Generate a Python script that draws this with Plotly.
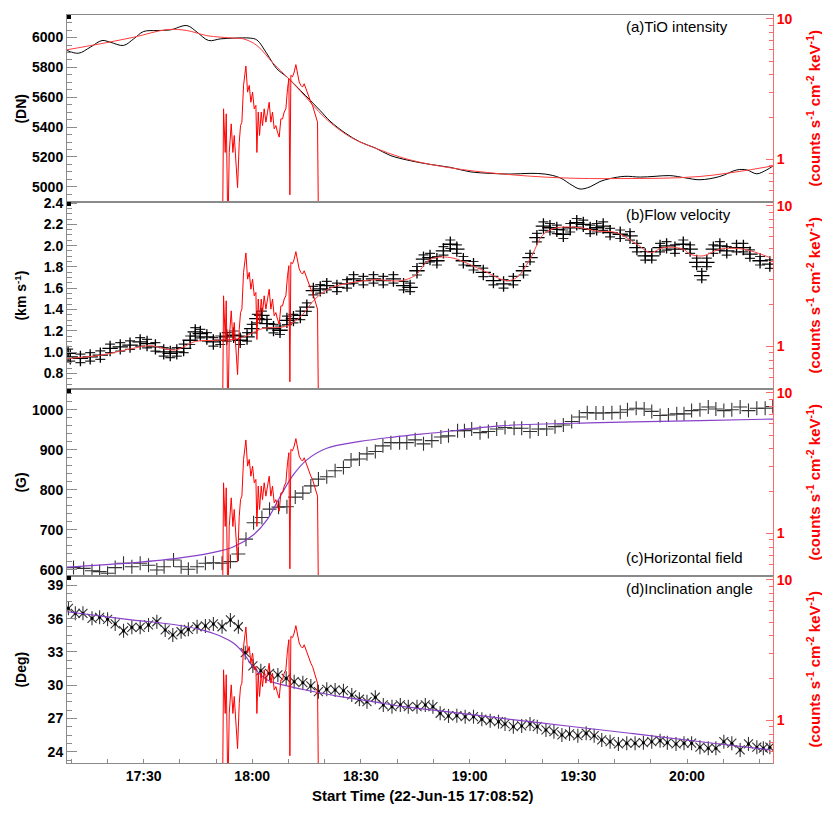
import numpy as np
import pandas as pd
import plotly.graph_objects as go

START = "2015-06-22 17:08:52"
END = "2015-06-22 20:23:44"
T0 = pd.Timestamp(START)

def T(minutes):
    return T0 + pd.to_timedelta(np.asarray(minutes, dtype=float), unit="min")

# ---------------- data (times = minutes after 17:08:52) ----------------
# (a) TiO intensity (DN)
tio_t = [0.0, 3.2, 6.4, 9.7, 11.9, 15.6, 18.4, 21.1, 24.8, 28.5, 33.1, 35.9, 39.1, 42.3, 46.0,
         50.6, 52.4, 55.2, 57.9, 60.7, 64.4, 67.1, 69.9, 72.6, 76.8, 80.9, 85.1, 89.2, 94.7, 100.2,
         105.8, 111.3, 116.8, 122.3, 127.8, 132.0, 136.1, 139.4, 141.6, 144.4, 147.1, 149.9, 154.0,
         158.2, 162.3, 166.4, 170.6, 174.7, 180.2, 184.9, 187.6, 190.4, 193.1, 194.8]
tio_v = [5913, 5895, 5935, 5980, 5969, 5947, 5991, 6040, 6047, 6051, 6080, 6036, 5980, 5991, 5996,
         5996, 5984, 5891, 5791, 5736, 5647, 5580, 5510, 5440, 5360, 5300, 5260, 5210, 5175, 5150,
         5130, 5100, 5090, 5085, 5090, 5085, 5060, 5010, 4985, 5000, 5035, 5055, 5070,
         5065, 5070, 5075, 5060, 5047, 5069, 5113, 5113, 5087, 5113, 5138]
tio_fit_t = [0.0, 9.2, 18.4, 27.6, 33.1, 38.6, 46.0, 48.7, 52.4, 57.0, 60.7, 64.4, 71.3, 78.2,
             86.4, 94.7, 105.8, 119.6, 136.1, 152.7, 174.7, 194.9]
tio_fit_v = [5918, 5958, 6002, 6053, 6047, 6013, 5996, 5991, 5947, 5825, 5736, 5642, 5460, 5333,
             5247, 5180, 5127, 5087, 5060, 5055, 5069, 5140]

# (b) Flow velocity (km/s)
vel_t = [0.3, 0.9, 3.7, 6.4, 9.2, 11.9, 14.7, 17.4, 20.2, 22.1, 24.4, 26.7, 28.5, 30.3, 32.2,
         34.0, 35.4, 36.8, 38.6, 40.4, 42.3, 44.1, 46.0, 47.8, 49.7, 51.0, 52.4, 53.8, 55.2, 57.0,
         58.8, 60.7, 62.5, 64.4, 66.2, 68.0, 69.9, 71.7, 74.5, 77.3, 79.1, 81.8, 84.6, 87.3, 90.1,
         92.9, 94.7, 96.6, 98.4, 100.2, 102.1, 103.9, 105.8, 107.6, 109.4, 112.2, 114.9, 117.7,
         120.5, 123.2, 126.0, 127.8, 129.7, 131.5, 133.3, 135.2, 137.0, 138.9, 140.7, 142.5, 144.4,
         146.2, 148.0, 149.9, 152.7, 155.4, 157.3, 159.6, 161.4, 163.7, 165.5, 167.8, 170.1, 172.0,
         173.8, 175.2, 176.6, 178.4, 180.2, 182.1, 184.8, 186.7, 188.5, 191.3, 194.0]
vel_v = [0.987, 0.955, 0.940, 0.955, 0.971, 1.034, 1.049, 1.065, 1.095, 1.080, 1.049, 1.002, 0.987,
         1.002, 1.034, 1.111, 1.189, 1.174, 1.142, 1.095, 1.111, 1.142, 1.158, 1.111, 1.142, 1.220,
         1.314, 1.344, 1.267, 1.220, 1.205, 1.298, 1.314, 1.344, 1.422, 1.578, 1.594, 1.624, 1.608,
         1.640, 1.687, 1.671, 1.687, 1.671, 1.687, 1.624, 1.608, 1.764, 1.873, 1.888, 1.858, 1.951,
         2.013, 1.967, 1.858, 1.811, 1.748, 1.671, 1.640, 1.671, 1.764, 1.888, 2.075, 2.184, 2.168,
         2.153, 2.107, 2.168, 2.215, 2.200, 2.153, 2.168, 2.184, 2.122, 2.107, 2.091, 1.982, 1.904,
         1.904, 1.982, 1.998, 1.967, 2.013, 1.967, 1.842, 1.718, 1.842, 1.967, 1.998, 1.951, 1.982,
         1.982, 1.920, 1.858, 1.827]
vel_err = 0.04
vel_fit_t = [0.0, 9.2, 17.5, 23.0, 29.9, 35.4, 40.9, 47.8, 53.9, 60.2, 64.4, 68.5, 72.6, 78.2,
             85.1, 92.0, 96.1, 100.2, 105.8, 114.0, 121.4, 124.2, 127.8, 131.5, 135.2, 141.6, 146.2,
             151.7, 157.3, 161.0, 164.6, 170.1, 172.0, 175.6, 180.2, 186.7, 194.0]
vel_fit_v = [0.94, 0.97, 1.03, 1.06, 1.02, 1.10, 1.11, 1.13, 1.22, 1.24, 1.33, 1.50, 1.60, 1.65,
             1.68, 1.67, 1.72, 1.87, 1.888, 1.78, 1.671, 1.702, 1.873, 2.107, 2.168, 2.168, 2.137,
             2.122, 2.013, 1.935, 1.982, 1.967, 1.920, 1.904, 1.967, 1.967, 1.888]

# (c) Horizontal field (G)
bh_t = [1.8, 4.6, 6.9, 9.0, 11.2, 13.3, 15.6, 17.9, 20.2, 22.5, 24.8, 26.8, 29.4, 31.5, 33.5,
        35.9, 38.2, 40.4, 42.8, 45.1, 47.3, 49.4, 51.5, 53.8, 55.9, 58.4, 60.7, 63.0, 65.1, 67.3,
        69.4, 71.7, 74.0, 76.3, 78.4, 80.7, 82.8, 85.1, 87.2, 89.4, 91.8,
        93.8, 96.1, 98.4, 100.7, 103.2, 105.3, 107.8, 109.7, 111.7, 114.0, 116.3, 118.6, 120.9,
        123.4, 125.5, 127.8, 130.1, 132.4, 134.7, 137.0, 139.3, 141.4, 143.6, 146.0, 148.0, 150.4,
        152.7, 154.7, 157.1, 159.3, 161.4, 163.7, 166.0, 168.3, 170.3, 172.4, 174.7, 177.0, 179.1,
        181.3, 183.5, 185.8, 188.1, 190.4, 192.7, 194.8]
bh_v = [606, 604, 598, 596, 592, 606, 617, 608, 617, 612, 600, 608, 625, 608, 602,
        608, 617, 618, 617, 621, 640, 677, 718, 731, 752, 757, 758, 782, 792, 810,
        827, 833, 848, 856, 875, 877, 890, 896, 910, 918, 918,
        918, 925, 915, 923, 932, 935, 948, 948, 952, 943, 946, 952, 956,
        954, 954, 946, 952, 952, 958, 962, 971, 982, 993, 992, 992, 993,
        994, 1000, 1004, 1002, 996, 986, 987, 990, 990, 998, 1000, 1007, 1002,
        998, 1000, 1007, 998, 1004, 1004, 1008]
bh_fit_t = [0.0, 16.6, 30.3, 39.5, 46.0, 51.5, 55.2, 58.8, 62.5, 66.2, 71.7, 80.9, 90.1, 103.0,
            119.5, 147.1, 174.7, 194.9]
bh_fit_v = [607, 617, 629, 642, 658, 688, 725, 783, 838, 875, 904, 921, 932, 944, 960, 968, 973, 977]

# (d) Inclination angle (deg)
inc_t = [0.4, 2.3, 4.4, 6.9, 9.0, 11.2, 13.3, 15.6, 17.9, 20.2, 22.5, 24.8, 27.1, 29.2, 31.5,
         33.5, 35.9, 38.2, 40.4, 42.8, 45.1, 47.3, 49.2, 51.3, 53.5, 55.9, 58.2, 60.5, 62.7, 65.1,
         67.3, 69.4, 71.7, 74.0, 76.3, 78.6, 80.7, 82.8, 85.1, 87.3, 89.7, 92.0, 94.2, 96.6, 98.9,
         101.0, 103.0, 105.3, 107.6, 109.9, 112.2, 114.5, 116.8, 119.1, 120.9, 123.2, 125.5, 127.8,
         129.8, 132.2, 134.4, 136.6, 138.7, 141.0, 143.3, 145.5, 147.6, 149.9, 152.2, 154.5, 156.8,
         159.1, 161.4, 163.7, 165.7, 168.1, 170.3, 172.4, 174.7, 177.0, 179.1, 181.3, 183.5, 185.8,
         188.1, 190.4, 192.2, 194.0]
inc_v = [36.93, 36.48, 36.48, 36.03, 36.12, 35.94, 35.52, 34.91, 35.22, 35.22, 35.43, 35.72, 34.98,
         34.53, 34.82, 35.04, 35.27, 35.34, 35.52, 35.27, 35.88, 35.27, 32.93, 31.74, 31.31, 31.08,
         30.93, 30.63, 30.32, 30.23, 29.94, 29.42, 29.64, 29.58, 29.51, 29.13, 28.74, 28.52, 28.92,
         28.23, 28.07, 28.23, 28.07, 28.07, 28.23, 28.07,
         27.48, 27.24, 27.26, 27.17, 27.17, 26.94, 26.81, 26.72, 26.52, 26.27, 26.34, 26.52, 26.27,
         25.98, 25.82, 25.53, 25.62, 25.46, 25.68, 25.46, 25.08, 24.92, 24.72, 24.78, 24.78, 24.83,
         24.92, 25.01, 24.83, 24.72, 24.78, 24.78, 24.42, 24.33, 24.33, 24.92, 24.78, 24.18, 24.72,
         24.42, 24.33, 24.42]
inc_fit_t = [0.0, 16.6, 30.3, 37.7, 42.3, 46.0, 48.7, 51.5, 55.2, 60.7, 66.2, 75.0, 84.0, 93.0,
             103.0, 127.8, 155.4, 178.4, 194.0]
inc_fit_v = [36.62, 35.94, 35.43, 34.95, 34.44, 33.78, 32.9, 31.6, 30.5, 29.95, 29.55, 29.0, 28.55,
             28.07, 27.7, 26.72, 25.68, 24.78, 24.18]

# Hard X-ray flux (counts s^-1 cm^-2 keV^-1), right-hand log axis
hxr_t = [42.94, 43.21, 43.67, 43.95, 44.41, 44.78, 45.33, 45.79, 46.16, 46.62, 47.08, 47.54, 47.90,
         48.27, 48.73, 49.38, 49.84, 50.30, 50.76, 51.22, 51.68, 52.14, 52.41, 52.78, 53.15, 53.61,
         53.97, 54.43, 54.90, 55.35, 55.81, 56.27, 56.73, 57.19, 57.65, 58.11, 58.57, 59.03, 59.49,
         59.95, 60.41, 60.87, 61.24, 61.52, 61.79, 62.25, 62.71, 63.17, 63.63, 64.09, 64.55, 65.01,
         65.47, 65.93, 66.39, 66.85, 67.31, 67.77, 68.23, 68.69, 69.15, 69.42]
hxr_v = [0.3, 2.29, 1.12, 2.11, 0.3, 1.12, 1.79, 1.12, 1.48, 0.95, 0.63, 1.32, 1.74, 1.84, 3.36,
         4.62, 3.01, 3.36, 2.55, 3.01, 2.29, 2.42, 1.12, 2.17, 1.48, 2.17, 1.74, 2.29, 1.84, 2.17,
         2.55, 1.84, 2.17, 1.65, 1.74, 1.56, 1.44, 1.94, 1.94, 2.17, 2.29, 3.18, 3.75, 0.56, 3.96,
         3.87, 4.18, 4.72, 4.07, 3.55, 3.36, 3.27, 3.45, 3.18, 3.01, 2.70, 2.55, 2.42, 2.23, 2.05,
         1.84, 0.3]

panel_labels = ["(a)TiO intensity", "(b)Flow velocity", "(c)Horizontal field", "(d)Inclination angle"]
left_titles = ["(DN)", "(km s<sup>-1</sup>)", "(G)", "(Deg)"]
right_title = "(counts s<sup>-1</sup> cm<sup>-2</sup> keV<sup>-1</sup>)"
x_title = "Start Time (22-Jun-15 17:08:52)"

# ---------------- styling ----------------
FONT = "Liberation Sans, Arial, Helvetica, sans-serif"
GRAY = "#8a8a8a"
RED_AX = "rgb(255,105,105)"
BOLD = dict(family=FONT, size=14, color="black", weight="bold")
RBOLD = dict(family=FONT, size=14, color="red", weight="bold")

fig = go.Figure()

def ax(i, kind):
    s = "" if i == 1 else str(i)
    return kind + s

# Panel a
fig.add_trace(go.Scatter(x=T(tio_t), y=tio_v, mode="lines", line=dict(color="black", width=1, shape="spline"),
                         xaxis="x", yaxis="y"))
fig.add_trace(go.Scatter(x=T(tio_fit_t), y=tio_fit_v, mode="lines",
                         line=dict(color="rgb(255,60,60)", width=1, shape="spline"), xaxis="x", yaxis="y"))
# Panel b
fig.add_trace(go.Scatter(x=T(vel_t), y=vel_v, mode="markers",
                         marker=dict(symbol="cross-thin", size=11, color="black", line=dict(width=1.3, color="black")),
                         error_y=dict(type="constant", value=vel_err, color="rgba(0,0,0,0.85)", thickness=1.2, width=5),
                         xaxis="x2", yaxis="y2"))
fig.add_trace(go.Scatter(x=T(vel_fit_t), y=vel_fit_v, mode="lines",
                         line=dict(color="rgb(255,70,70)", width=1, shape="spline"), xaxis="x2", yaxis="y2"))
# Panel c
fig.add_trace(go.Scatter(x=T(bh_t), y=bh_v, mode="markers",
                         marker=dict(symbol="cross-thin", size=10, color="#333", line=dict(width=1.1, color="#333")),
                         xaxis="x3", yaxis="y3"))
fig.add_trace(go.Scatter(x=T(bh_fit_t), y=bh_fit_v, mode="lines",
                         line=dict(color="rgb(135,65,200)", width=1.2, shape="spline"), xaxis="x3", yaxis="y3"))
# Panel d
for sym, sz in (("x-thin", 9), ("line-ns", 10)):
    fig.add_trace(go.Scatter(x=T(inc_t), y=inc_v, mode="markers",
                             marker=dict(symbol=sym, size=sz, color="#333", line=dict(width=1.1, color="#333")),
                             xaxis="x4", yaxis="y4"))
fig.add_trace(go.Scatter(x=T(inc_t), y=inc_v, mode="markers",
                         marker=dict(symbol="circle", size=3, color="black"), xaxis="x4", yaxis="y4"))
fig.add_trace(go.Scatter(x=T(inc_fit_t), y=inc_fit_v, mode="lines",
                         line=dict(color="rgb(135,65,200)", width=1.2, shape="spline"), xaxis="x4", yaxis="y4"))

# HXR on the right log axes of each panel
for i in range(1, 5):
    fig.add_trace(go.Scatter(x=T(hxr_t), y=hxr_v, mode="lines", line=dict(color="rgb(255,0,0)", width=1),
                             xaxis=ax(i, "x"), yaxis="y" + str(i + 4)))

domains = [[0.75, 1.0], [0.5, 0.75], [0.25, 0.5], [0.0, 0.25]]
ranges = [[4898, 6151], [0.653, 2.41], [585, 1052], [23.0, 39.84]]
dticks = [200, 0.2, 100, 3]
minors = [50, 0.05, 20, 0.75]
fmts = ["d", ".1f", "d", "d"]

# page body has an 8px margin, so the figure is 822x822 to fill the 830x830 window
layout = dict(
    width=822, height=822, margin=dict(l=59, r=57, t=7, b=67, autoexpand=False),
    paper_bgcolor="white", plot_bgcolor="white", showlegend=False,
    font=dict(family=FONT, color="black"),
)
for i in range(1, 5):
    xa = dict(domain=[0, 1], anchor=ax(i, "y"), type="date", range=[START, END],
              showline=True, mirror=True, linecolor=GRAY, linewidth=1, showgrid=False, zeroline=False)
    if i > 1:
        xa["matches"] = "x"
    if i < 4:
        xa.update(ticks="", showticklabels=False)
    else:
        xa.update(ticks="inside", ticklen=4, tickcolor=GRAY, dtick=1800000, tick0="2015-06-22 17:00:00",
                  tickformat="%H:%M", tickfont=BOLD,
                  minor=dict(dtick=600000, tick0="2015-06-22 17:00:00", ticks="inside", ticklen=4, tickcolor=GRAY))
    layout["xaxis" + ("" if i == 1 else str(i))] = xa

    ya = dict(domain=domains[i - 1], anchor=ax(i, "x"), range=ranges[i - 1], dtick=dticks[i - 1], tick0=0,
              tickformat=fmts[i - 1], ticks="inside", ticklen=10, tickcolor=GRAY, showline=True, linecolor=GRAY,
              showgrid=False, zeroline=False, tickfont=BOLD,
              minor=dict(dtick=minors[i - 1], tick0=0, ticks="inside", ticklen=5, tickcolor=GRAY, showgrid=False))
    layout["yaxis" + ("" if i == 1 else str(i))] = ya

    yr = dict(overlaying=ax(i, "y"), anchor=ax(i, "x"), side="right", type="log", range=[-0.303, 1.027],
              tickmode="array", tickvals=[1, 10], ticktext=["1", "10"], ticks="inside", ticklen=7,
              tickcolor=RED_AX, showline=True, linecolor=RED_AX, showgrid=False, zeroline=False, tickfont=RBOLD,
              minor=dict(tickmode="array", tickvals=[0.5, 0.6, 0.7, 0.8, 0.9, 2, 3, 4, 5, 6, 7, 8, 9],
                         ticks="inside", ticklen=4, tickcolor=RED_AX, showgrid=False))
    layout["yaxis" + str(i + 4)] = yr

fig.update_layout(**layout)

# annotations
lab_y = [0.984, 0.7335, 0.2754, 0.2336]
centers = [0.875, 0.625, 0.375, 0.125]
for i in range(4):
    fig.add_annotation(text=panel_labels[i], xref="paper", yref="paper", x=0.789, y=lab_y[i],
                       xanchor="left", yanchor="middle", showarrow=False,
                       font=dict(family=FONT, size=15, color="black"))
    fig.add_annotation(text=left_titles[i], xref="paper", yref="paper", x=-0.0665, y=centers[i],
                       xanchor="center", yanchor="middle", textangle=-90, showarrow=False, font=BOLD)
    fig.add_annotation(text=right_title, xref="paper", yref="paper", x=1.0567, y=centers[i],
                       xanchor="center", yanchor="middle", textangle=-90, showarrow=False,
                       font=dict(family=FONT, size=15, color="red", weight="bold"))
    top = domains[i][1]
    fig.add_shape(type="rect", xref="paper", yref="paper", x0=0, x1=4 / 706, y0=top - 4 / 748, y1=top,
                  fillcolor="black", line=dict(width=0))

fig.add_annotation(text=x_title, xref="paper", yref="paper", x=0.503, y=-0.0428,
                   xanchor="center", yanchor="middle", showarrow=False,
                   font=dict(family=FONT, size=15, color="black", weight="bold"))

fig.write_html("out.html")
